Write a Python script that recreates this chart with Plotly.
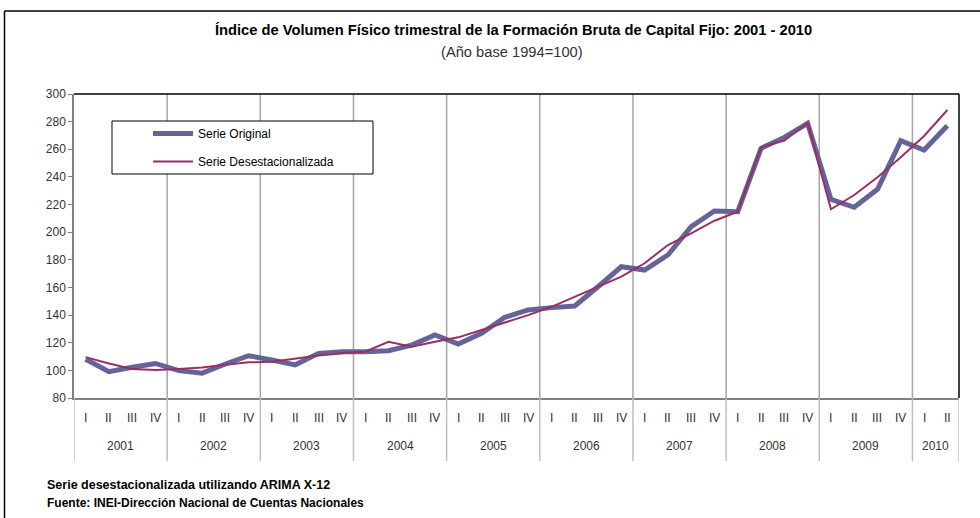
import plotly.graph_objects as go

years = ["2001", "2002", "2003", "2004", "2005", "2006", "2007", "2008", "2009", "2010"]
quarter_labels = ["I", "II", "III", "IV"] * 9 + ["I", "II"]

serie_original = [108, 99, 102.2, 105, 99.8, 98, 104.6, 110.6,
                  107.5, 104, 112.3, 113.5, 113.5, 114.2, 118.3, 125.6,
                  119, 126.8, 138.4, 143.7, 145.4, 146.6, 160.5, 175,
                  172.6, 183.5, 204, 215.3, 214.8, 260.7, 268.6, 278.8,
                  223.8, 218, 231, 266.2, 259.5, 277]
serie_desest = [109.6, 105, 101, 100.2, 101, 102, 104, 105.8,
                106.3, 108.7, 110.8, 112.3, 113.5, 120.7, 117.1, 120.7,
                123.9, 129.2, 134.5, 140, 146, 153.3, 160.5, 167.8,
                177.5, 190.7, 199.2, 208.3, 214.8, 261.4, 266.2, 279.2,
                216.6, 226.9, 239.7, 254.2, 269.6, 288.4]

title_text = "Índice de Volumen Físico trimestral de la Formación Bruta de Capital Fijo: 2001 - 2010"
subtitle_text = "(Año base 1994=100)"
note1 = "Serie desestacionalizada utilizando ARIMA X-12"
note2 = "Fuente: INEI-Dirección Nacional de Cuentas Nacionales"

W, H = 980, 518
L, R, T, B = 74, 21, 94, 120
PW, PH = W - L - R, H - T - B

def px_x(p):
    return (p - L) / PW

def px_y(p):
    return (H - B - p) / PH

xs = list(range(len(serie_original)))
NARROW = "Liberation Sans Narrow, Arial Narrow, Liberation Sans, Arial, sans-serif"
REG = "Liberation Sans, Arial, sans-serif"

fig = go.Figure()
fig.add_trace(go.Scatter(x=xs, y=serie_original, mode="lines", name="Serie Original",
                         legendgroup="a", line=dict(color="#646499", width=5)))
fig.add_trace(go.Scatter(x=xs, y=serie_desest, mode="lines", name="Serie Desestacionalizada",
                         legendgroup="b", line=dict(color="#9B2F62", width=2)))

shapes = []
annotations = []
n = len(xs)
for i in range(1, len(years)):
    xb = i * 4 - 0.5
    shapes.append(dict(type="line", xref="x", yref="paper", x0=xb, x1=xb, y0=0, y1=1,
                       line=dict(color="#A6A6A6", width=1.5), layer="below"))
    shapes.append(dict(type="line", xref="x", yref="paper", x0=xb, x1=xb, y0=px_y(461), y1=0,
                       line=dict(color="#BFBFBF", width=1.5)))
for xb in [-0.5, n - 0.5]:
    shapes.append(dict(type="line", xref="x", yref="paper", x0=xb, x1=xb, y0=px_y(461), y1=0,
                       line=dict(color="#BFBFBF", width=1.5)))
shapes.append(dict(type="line", xref="paper", yref="paper", x0=0, x1=1, y0=1, y1=1,
                   line=dict(color="black", width=1.5)))
shapes.append(dict(type="line", xref="paper", yref="paper", x0=1, x1=1, y0=0, y1=1,
                   line=dict(color="black", width=1.5)))
shapes.append(dict(type="line", xref="paper", yref="paper", x0=px_x(4.5), x1=px_x(980), y0=px_y(11), y1=px_y(11),
                   line=dict(color="black", width=1.5)))
shapes.append(dict(type="line", xref="paper", yref="paper", x0=px_x(4.5), x1=px_x(4.5), y0=px_y(11), y1=px_y(518),
                   line=dict(color="black", width=1.5)))
shapes.append(dict(type="rect", xref="paper", yref="paper", x0=px_x(112), x1=px_x(373), y0=px_y(174), y1=px_y(121),
                   line=dict(color="black", width=1), fillcolor="white", layer="below"))

for i, q in enumerate(quarter_labels):
    annotations.append(dict(x=i, y=px_y(418), xref="x", yref="paper", text=q, showarrow=False,
                            font=dict(family=REG, size=12, color="#333333"), xanchor="center", yanchor="middle"))
for j, yr in enumerate(years):
    cnt = min(4, n - j * 4)
    cx = j * 4 + (cnt - 1) / 2
    annotations.append(dict(x=cx, y=px_y(446), xref="x", yref="paper", text=yr, showarrow=False,
                            font=dict(family=REG, size=12, color="#333333"), xanchor="center", yanchor="middle"))

annotations.append(dict(x=px_x(513), y=px_y(30), xref="paper", yref="paper", text="<b>" + title_text + "</b>",
                        showarrow=False, font=dict(family=NARROW, size=14.7, color="black"),
                        xanchor="center", yanchor="middle"))
annotations.append(dict(x=px_x(512), y=px_y(52), xref="paper", yref="paper", text=subtitle_text,
                        showarrow=False, font=dict(family=NARROW, size=14.7, color="#333333"),
                        xanchor="center", yanchor="middle"))
annotations.append(dict(x=px_x(45), y=px_y(485), xref="paper", yref="paper", text="<b>" + note1 + "</b>",
                        showarrow=False, font=dict(family=NARROW, size=12.5, color="black"),
                        xanchor="left", yanchor="middle"))
annotations.append(dict(x=px_x(45), y=px_y(503), xref="paper", yref="paper", text="<b>" + note2 + "</b>",
                        showarrow=False, font=dict(family=NARROW, size=12, color="black"),
                        xanchor="left", yanchor="middle"))

fig.update_layout(
    width=W, height=H,
    margin=dict(l=L, r=R, t=T, b=B, pad=0),
    paper_bgcolor="white", plot_bgcolor="white",
    showlegend=True,
    legend=dict(x=px_x(148), y=px_y(119), xanchor="left", yanchor="top",
                bgcolor="rgba(0,0,0,0)", borderwidth=0,
                font=dict(family=REG, size=12, color="black"),
                tracegroupgap=9, itemwidth=40),
    xaxis=dict(range=[-0.5, n - 0.5], showticklabels=False, showgrid=False, zeroline=False,
               showline=True, linecolor="#808080", linewidth=1.5, ticks=""),
    yaxis=dict(range=[80, 300], dtick=20, showgrid=False, zeroline=False,
               showline=True, linecolor="#808080", linewidth=1.5,
               ticks="outside", ticklen=4, tickcolor="#808080",
               tickfont=dict(family=REG, size=12, color="#333333")),
    shapes=shapes, annotations=annotations,
)
fig.write_html("out.html", config={"displayModeBar": False},
               post_script="document.body.style.margin='0';document.body.style.padding='0';")
